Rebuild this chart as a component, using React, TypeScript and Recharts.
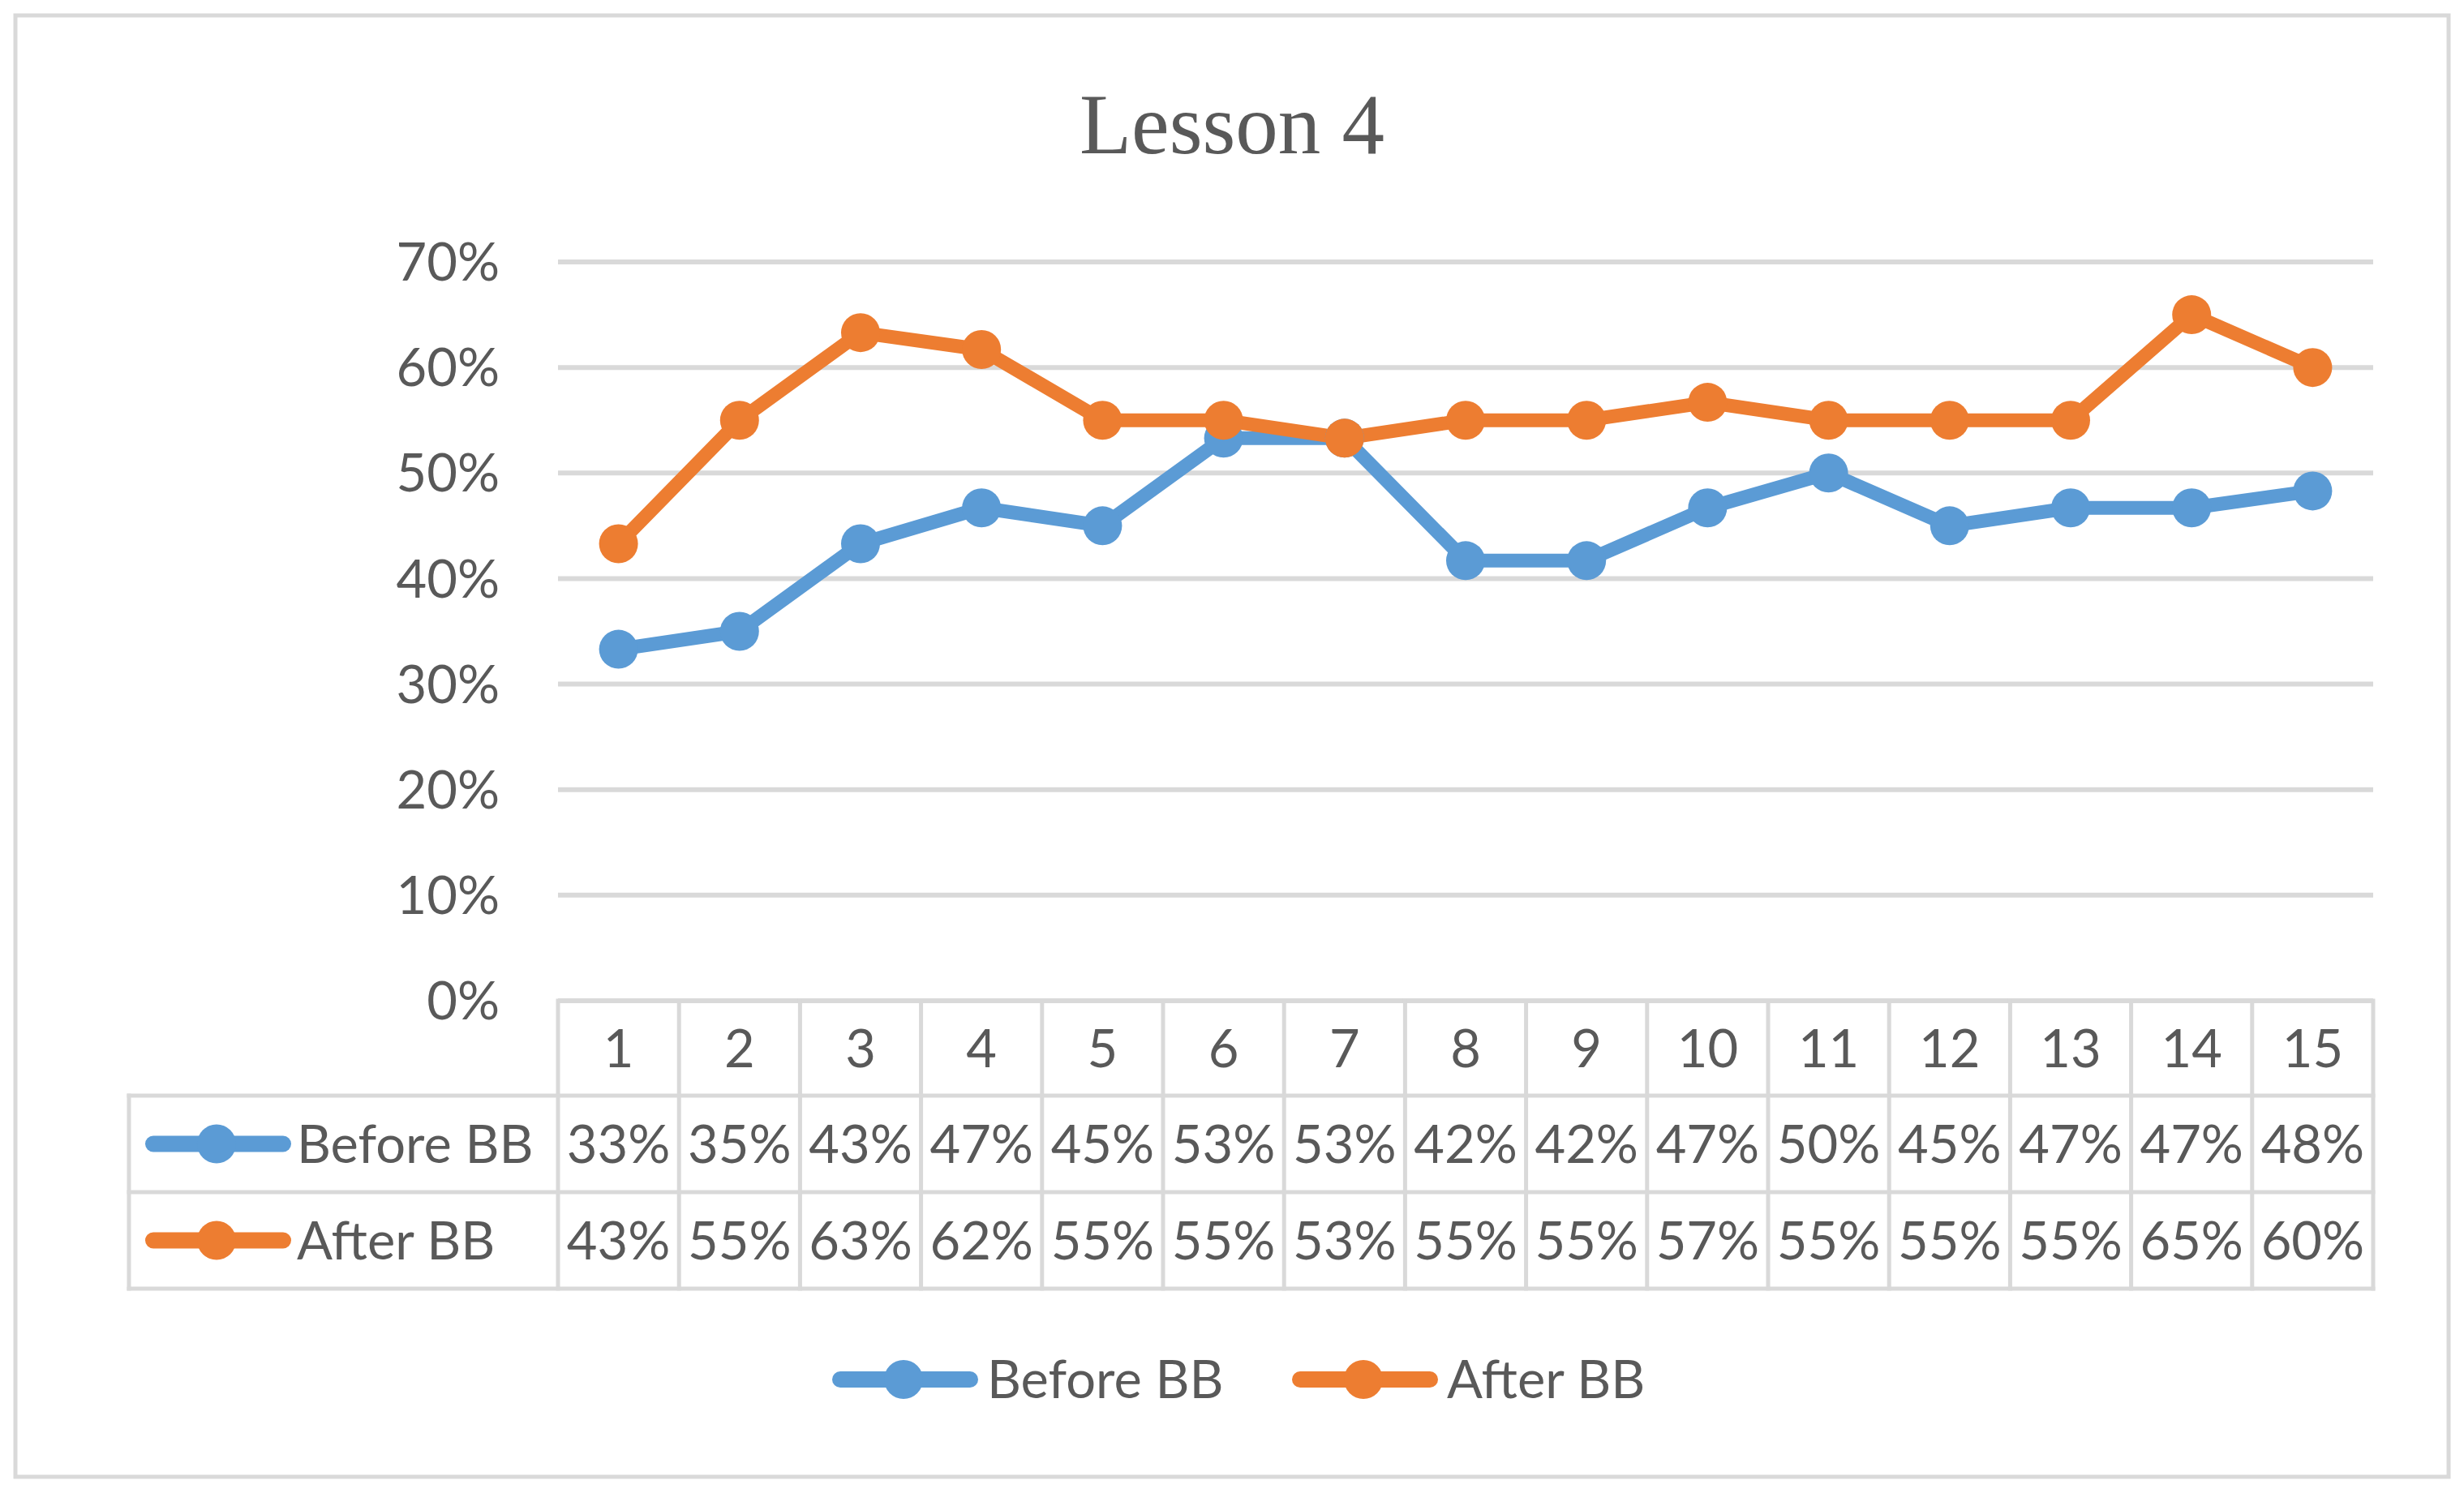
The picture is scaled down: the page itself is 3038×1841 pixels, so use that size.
import React from 'react';
import { LineChart, Line, XAxis, YAxis, CartesianGrid, Legend } from 'recharts';

if (typeof document !== 'undefined') {
  document.body.style.margin = '0';
}

// ---------- data ----------
const TITLE = 'Lesson 4';
const CATEGORIES = ['1', '2', '3', '4', '5', '6', '7', '8', '9', '10', '11', '12', '13', '14', '15'];
const BEFORE_BB = [33.3, 35, 43.3, 46.7, 45, 53.3, 53.3, 41.7, 41.7, 46.7, 50, 45, 46.7, 46.7, 48.3];
const AFTER_BB = [43.3, 55, 63.3, 61.7, 55, 55, 53.3, 55, 55, 56.7, 55, 55, 55, 65, 60];
const Y_TICKS = [0, 10, 20, 30, 40, 50, 60, 70];
const SERIES = [
  { key: 'before', name: 'Before BB', color: '#5B9BD5', values: BEFORE_BB },
  { key: 'after', name: 'After BB', color: '#ED7D31', values: AFTER_BB },
];

const data = CATEGORIES.map((cat, i) => ({ cat, before: BEFORE_BB[i], after: AFTER_BB[i] }));

// ---------- layout ----------
const W = 3038;
const H = 1841;
const PLOT_L = 688;
const PLOT_R = 2926;
const PLOT_T = 323;
const PLOT_B = 1234;
const COL_W = (PLOT_R - PLOT_L) / CATEGORIES.length;
const TABLE_LEFT = 159;
const ROW_Y = [PLOT_B, 1351, 1470, 1589];
const YAXIS_W = 200;
const XAXIS_H = 400;
const LEGEND_H = 80;
const LEGEND_TOP = 1661;
const LEGEND_X = [1026, 1593];
const TEXT = '#595959';
const GRID = '#D9D9D9';
const FONT = 'Lato, "Open Sans", sans-serif';
const FS = 65;
const CAP_HALF = 23;

const fmt = (v: number) => `${Math.round(v)}%`;
const rowMid = (r: number) => (ROW_Y[r] + ROW_Y[r + 1]) / 2;

const Icon = ({ x0, cy, color }: { x0: number; cy: number; color: string }) => (
  <g>
    <line x1={x0 + 10} x2={x0 + 170} y1={cy} y2={cy} stroke={color} strokeWidth={20} strokeLinecap="round" />
    <circle cx={x0 + 88} cy={cy} r={24} fill={color} />
  </g>
);

const TableFrame = () => (
  <g>
    {[1, 2, 3].map((r) => (
      <line key={r} x1={TABLE_LEFT} x2={PLOT_R} y1={ROW_Y[r]} y2={ROW_Y[r]} stroke={GRID} strokeWidth={5} strokeLinecap="square" />
    ))}
    <line x1={PLOT_L} x2={PLOT_L} y1={ROW_Y[0]} y2={ROW_Y[3]} stroke={GRID} strokeWidth={5} strokeLinecap="square" />
    <line x1={TABLE_LEFT} x2={TABLE_LEFT} y1={ROW_Y[1]} y2={ROW_Y[3]} stroke={GRID} strokeWidth={5} strokeLinecap="square" />
    {SERIES.map((s, r) => (
      <g key={s.key}>
        <Icon x0={179} cy={rowMid(r + 1)} color={s.color} />
        <text x={366} y={rowMid(r + 1) + CAP_HALF} fontFamily={FONT} fontSize={FS} fill={TEXT}>
          {s.name}
        </text>
      </g>
    ))}
  </g>
);

const TableTick = (props: any) => {
  const { x, payload } = props;
  const index = typeof props.index === 'number' ? props.index : CATEGORIES.indexOf(String(payload.value));
  const half = COL_W / 2;
  return (
    <g>
      {index === 0 && <TableFrame />}
      <line x1={x + half} x2={x + half} y1={ROW_Y[0]} y2={ROW_Y[3]} stroke={GRID} strokeWidth={5} strokeLinecap="square" />
      <text x={x} y={rowMid(0) + CAP_HALF} textAnchor="middle" fontFamily={FONT} fontSize={FS} fill={TEXT}>
        {payload.value}
      </text>
      {SERIES.map((s, r) => (
        <text key={s.key} x={x} y={rowMid(r + 1) + CAP_HALF} textAnchor="middle" fontFamily={FONT} fontSize={FS} fill={TEXT}>
          {fmt(s.values[index])}
        </text>
      ))}
    </g>
  );
};

const LegendContent = (props: any) => {
  const raw = props.payload || [];
  const order = (it: any) => {
    const idx = SERIES.findIndex((s) => s.name === it.value);
    return idx < 0 ? 99 : idx;
  };
  const items = [...raw].sort((a: any, b: any) => order(a) - order(b));
  return (
    <svg width={W} height={LEGEND_H} style={{ display: 'block' }}>
      {items.map((it: any, i: number) => (
        <g key={i}>
          <Icon x0={LEGEND_X[i]} cy={LEGEND_H / 2} color={it.color} />
          <text x={LEGEND_X[i] + 191} y={LEGEND_H / 2 + CAP_HALF} fontFamily={FONT} fontSize={FS} fill={TEXT}>
            {it.value}
          </text>
        </g>
      ))}
    </svg>
  );
};

export default function App() {
  return (
    <div style={{ position: 'relative', width: W, height: H, background: '#fff' }}>
      <svg style={{ position: 'absolute', left: 0, top: 0 }} width={W} height={H}>
        <rect x={19} y={19} width={3000} height={1802} fill="#fff" stroke={GRID} strokeWidth={5} />
        <text x={1519} y={189} textAnchor="middle" fontFamily='"Liberation Serif", serif' fontSize={105} fill={TEXT}>
          {TITLE}
        </text>
      </svg>
      <div style={{ position: 'absolute', left: 0, top: 0 }}>
        <LineChart
          width={W}
          height={H}
          data={data}
          margin={{
            top: PLOT_T,
            right: W - PLOT_R,
            left: PLOT_L - YAXIS_W,
            bottom: H - PLOT_B - XAXIS_H - LEGEND_H,
          }}
        >
          <CartesianGrid vertical={false} stroke={GRID} strokeWidth={6} />
          <XAxis
            dataKey="cat"
            interval={0}
            padding={{ left: COL_W / 2, right: COL_W / 2 }}
            axisLine={false}
            tickLine={false}
            height={XAXIS_H}
            tick={(p: any) => <TableTick {...p} />}
          />
          <YAxis
            domain={[0, 70]}
            ticks={Y_TICKS}
            tickFormatter={(v: number) => `${v}%`}
            axisLine={false}
            tickLine={false}
            tickSize={0}
            tickMargin={72}
            width={YAXIS_W}
            tick={{ fill: TEXT, fontSize: FS, fontFamily: FONT }}
          />
          {SERIES.map((s) => (
            <Line
              key={s.key}
              type="linear"
              dataKey={s.key}
              name={s.name}
              stroke={s.color}
              strokeWidth={17}
              strokeLinejoin="round"
              dot={{ r: 24, fill: s.color, stroke: 'none', strokeWidth: 0 }}
              activeDot={false}
              isAnimationActive={false}
            />
          ))}
          <Legend
            verticalAlign="bottom"
            itemSorter={null as any}
            content={(p: any) => <LegendContent {...p} />}
            wrapperStyle={{ top: LEGEND_TOP, left: 0, width: W, height: LEGEND_H }}
          />
        </LineChart>
      </div>
    </div>
  );
}
